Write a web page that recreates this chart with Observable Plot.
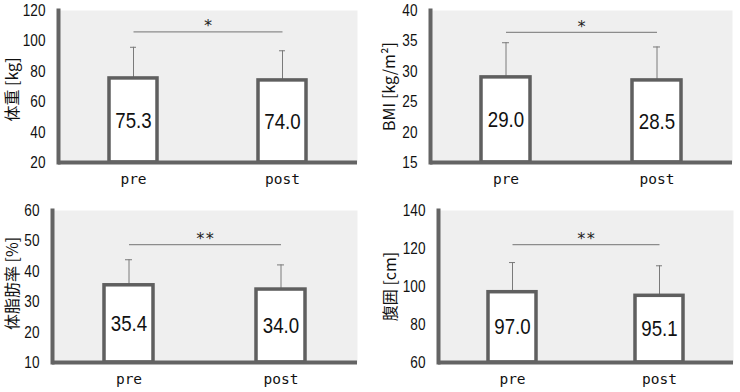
<!DOCTYPE html>
<html><head><meta charset="utf-8">
<script src="https://cdn.jsdelivr.net/npm/d3@7"></script>
<script src="https://cdn.jsdelivr.net/npm/@observablehq/plot@0.6"></script>
<style>
body{margin:0;background:#fff;}
#wrap{position:relative;width:740px;height:392px;overflow:hidden;}
.panel{position:absolute;}
.panel svg{background:#fff;}
</style></head><body><div id="wrap"></div>
<script>
// ---- data ----
const groups = ["pre", "post"];
const weightMean = [75.3, 74.0];
const weightSD = [20.5, 19.5];
const bmiMean = [29.0, 28.5];
const bmiSD = [5.7, 5.5];
const fatMean = [35.4, 34.0];
const fatSD = [8.4, 8.1];
const waistMean = [97.0, 95.1];
const waistSD = [15.6, 15.8];
const yLabels = ["体重 [kg]", "BMI [kg/m²]", "体脂肪率 [%]", "腹囲 [cm]"];
const yDomains = [[20, 120], [15, 40], [10, 60], [60, 140]];
const yTicks = [[20, 40, 60, 80, 100, 120], [15, 20, 25, 30, 35, 40], [10, 20, 30, 40, 50, 60], [60, 80, 100, 120, 140]];
const sigText = ["*", "*", "**", "**"];
const sigLevel = [106, 36.4, 48.8, 122];

const means = [weightMean, bmiMean, fatMean, waistMean];
const sds = [weightSD, bmiSD, fatSD, waistSD];

// ---- layout ----
const layout = [
  {left: 0, top: 0, ml: 58, mr: 13, mt: 10, mb: 34, labelDx: -46, labelDy: 3},
  {left: 370, top: 0, ml: 60, mr: 8, mt: 10, mb: 34, labelDx: -41, labelDy: 0},
  {left: 0, top: 196, ml: 52, mr: 13, mt: 14, mb: 30, labelDx: -40, labelDy: -3},
  {left: 370, top: 196, ml: 68, mr: 7, mt: 14, mb: 30, labelDx: -48, labelDy: 0}
];

const numFont = "'Liberation Sans Narrow', 'Arial Narrow', 'Liberation Sans', sans-serif";
const monoFont = "'DejaVu Sans Mono', 'Liberation Mono', monospace";
const cjkFont = "'Noto Sans CJK JP', 'Noto Sans', sans-serif";
const axisColor = "#646464";

function panel(k) {
  const L = layout[k];
  const y0 = yDomains[k][0];
  const data = groups.map((g, i) => ({group: g, mean: means[k][i], sd: sds[k][i]}));
  return Plot.plot({
    width: 370, height: 196,
    marginLeft: L.ml, marginRight: L.mr, marginTop: L.mt, marginBottom: L.mb,
    style: {background: "#fff", overflow: "visible"},
    x: {domain: groups, paddingInner: 0.675, paddingOuter: 0.3375, axis: null},
    y: {domain: yDomains[k], axis: null},
    marks: [
      Plot.frame({fill: "#efefef", stroke: null}),
      Plot.link([sigLevel[k]], {x1: () => groups[0], x2: () => groups[1], y1: d => d, y2: d => d, stroke: "#8c8c8c", strokeWidth: 1.2}),
      Plot.text([sigText[k]], {frameAnchor: "middle", y: () => sigLevel[k], text: d => d, dy: -6, fontSize: 16, fontFamily: monoFont, fill: "#222"}),
      Plot.ruleX(data, {x: "group", y1: "mean", y2: d => d.mean + d.sd, stroke: "#7a7a7a", strokeWidth: 1}),
      Plot.tickY(data, {x: "group", y: d => d.mean + d.sd, stroke: "#7a7a7a", strokeWidth: 1, insetLeft: 21, insetRight: 21}),
      Plot.barY(data, {x: "group", y1: () => y0, y2: "mean", fill: "white", stroke: "#5f5f5f", strokeWidth: 3.5}),
      Plot.ruleY([y0], {stroke: axisColor, strokeWidth: 4}),
      Plot.frame({anchor: "left", stroke: axisColor, strokeWidth: 4}),
      Plot.axisY({ticks: yTicks[k], tickSize: 0, tickPadding: 13, fontSize: 17, fontFamily: numFont, fill: "#111", label: null}),
      Plot.axisX({tickSize: 0, tickPadding: 11, fontSize: 14.5, fontFamily: monoFont, fill: "#111", label: null}),
      Plot.text(data, {x: "group", y: d => (y0 + d.mean) / 2, text: d => d.mean.toFixed(1), fontSize: 22, fontFamily: numFont, fill: "#111", className: "barval"}),
      Plot.text([yLabels[k]], {frameAnchor: "left", textAnchor: "middle", lineAnchor: "middle", rotate: -90, dx: L.labelDx, dy: L.labelDy, text: d => d, fontSize: 16, fontFamily: cjkFont, fill: "#111"})
    ]
  });
}

// narrow the numeric texts to mimic the condensed face of the original
function condense(svg, selector, factor) {
  d3.select(svg).selectAll(selector).each(function () {
    const w = this.getComputedTextLength();
    if (w > 0) {
      this.setAttribute("textLength", (w * factor).toFixed(2));
      this.setAttribute("lengthAdjust", "spacingAndGlyphs");
    }
  });
}

const wrap = document.getElementById("wrap");
for (let k = 0; k < 4; k++) {
  const div = document.createElement("div");
  div.className = "panel";
  div.style.left = layout[k].left + "px";
  div.style.top = layout[k].top + "px";
  const svg = panel(k);
  div.appendChild(svg);
  wrap.appendChild(div);
  condense(svg, '[aria-label="y-axis tick label"] text', 0.8);
  condense(svg, '.barval text', 0.85);
}
</script>
</body></html>
